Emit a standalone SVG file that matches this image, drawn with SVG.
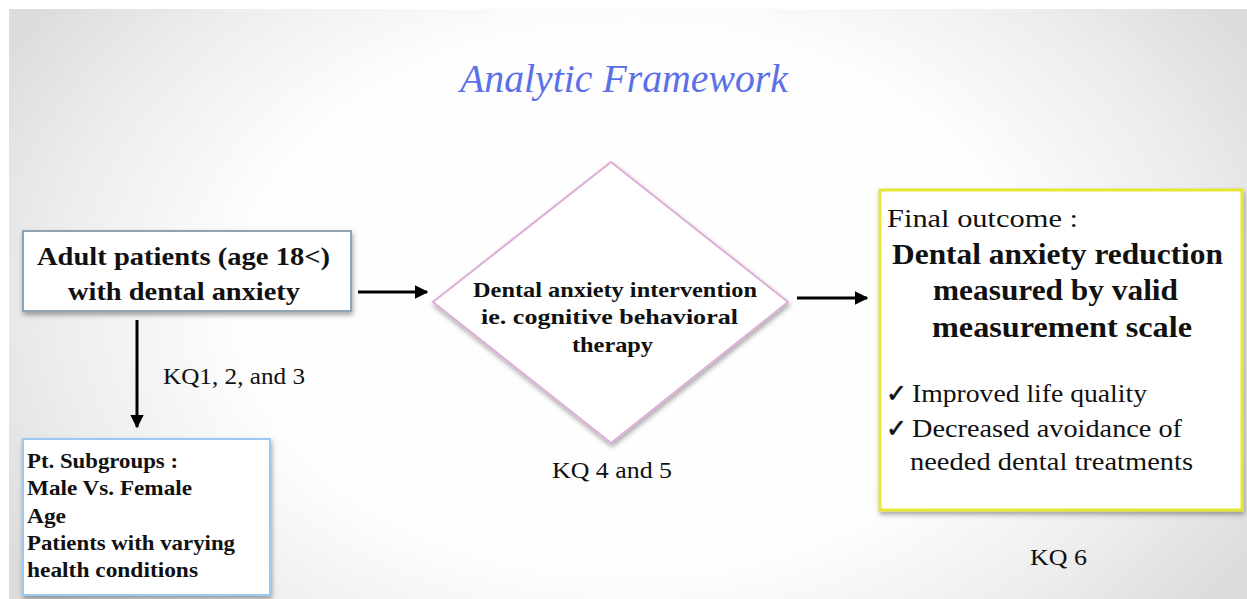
<svg xmlns="http://www.w3.org/2000/svg" width="1247" height="599" viewBox="0 0 1247 599">
<defs>
<radialGradient id="bg" cx="630" cy="300" r="720" gradientUnits="userSpaceOnUse" gradientTransform="translate(630 300) scale(1 0.7) translate(-630 -300)">
<stop offset="0" stop-color="#ffffff"/>
<stop offset="0.55" stop-color="#fdfdfd"/>
<stop offset="0.8" stop-color="#ededed"/>
<stop offset="1" stop-color="#dcdcdc"/>
</radialGradient>
<filter id="sh" x="-10%" y="-10%" width="125%" height="125%">
<feDropShadow dx="1" dy="3" stdDeviation="2.5" flood-color="#000" flood-opacity="0.35"/>
</filter>
<marker id="ah" viewBox="0 0 10 10" refX="9" refY="5" markerWidth="4.5" markerHeight="4.5" orient="auto" markerUnits="strokeWidth">
<path d="M0,0 L10,5 L0,10 z" fill="#000"/>
</marker>
<style>
.t{font-family:"Liberation Serif","Times New Roman",serif;fill:#111}
.b{font-weight:bold}
.ck{font-family:"DejaVu Sans",sans-serif;font-weight:bold;fill:#111;stroke:#111;stroke-width:0.6}
.c{stroke:#000;stroke-width:3;fill:none;marker-end:url(#ah)}
</style>
</defs>
<rect width="1247" height="599" fill="#fff"/>
<rect x="9" y="9" width="1238" height="590" fill="url(#bg)"/>
<text x="624" y="92" text-anchor="middle" font-family="Liberation Serif, serif" font-style="italic" font-size="40" fill="#5b70e8" textLength="328" lengthAdjust="spacingAndGlyphs">Analytic Framework</text>
<g id="connectors">
<line class="c" x1="358" y1="292" x2="427" y2="292"/>
<line class="c" x1="137" y1="320" x2="137" y2="427"/>
<line class="c" x1="797" y1="298" x2="867" y2="298"/>
</g>
<g id="population">
<rect x="23" y="231" width="328" height="80" fill="#fff" stroke="#8fa3b3" stroke-width="2" filter="url(#sh)"/>
<text class="t b" x="37" y="265" font-size="26" textLength="293" lengthAdjust="spacingAndGlyphs">Adult patients (age 18&lt;)</text>
<text class="t b" x="68" y="300" font-size="26" textLength="232" lengthAdjust="spacingAndGlyphs">with dental anxiety</text>
</g>
<text class="t" x="163" y="384" font-size="23" textLength="142" lengthAdjust="spacingAndGlyphs">KQ1, 2, and 3</text>
<g id="subgroups">
<rect x="23" y="439" width="247" height="156" fill="#fff" stroke="#9cc9f2" stroke-width="2" filter="url(#sh)"/>
<text class="t b" x="27" y="468" font-size="21" textLength="151" lengthAdjust="spacingAndGlyphs">Pt. Subgroups :</text>
<text class="t b" x="27" y="495" font-size="21" textLength="165" lengthAdjust="spacingAndGlyphs">Male Vs. Female</text>
<text class="t b" x="27" y="523" font-size="21" textLength="39" lengthAdjust="spacingAndGlyphs">Age</text>
<text class="t b" x="27" y="550" font-size="21" textLength="208" lengthAdjust="spacingAndGlyphs">Patients with varying</text>
<text class="t b" x="27" y="577" font-size="21" textLength="171" lengthAdjust="spacingAndGlyphs">health conditions</text>
</g>
<g id="intervention">
<polygon points="611,162 788,302 611,443 433,302" fill="#fff" stroke="#dcaed6" stroke-width="2" filter="url(#sh)"/>
<text class="t b" x="473" y="297" font-size="21" textLength="284" lengthAdjust="spacingAndGlyphs">Dental anxiety intervention</text>
<text class="t b" x="481" y="324" font-size="21" textLength="257" lengthAdjust="spacingAndGlyphs">ie. cognitive behavioral</text>
<text class="t b" x="572" y="352" font-size="21" textLength="81" lengthAdjust="spacingAndGlyphs">therapy</text>
</g>
<text class="t" x="552" y="478" font-size="23" textLength="120" lengthAdjust="spacingAndGlyphs">KQ 4 and 5</text>
<g id="outcome">
<rect x="880" y="190" width="362" height="320" fill="#fff" stroke="#e6e635" stroke-width="3" filter="url(#sh)"/>
<text class="t" x="887" y="227" font-size="26" textLength="191" lengthAdjust="spacingAndGlyphs">Final outcome :</text>
<text class="t b" x="892" y="264" font-size="29" textLength="331" lengthAdjust="spacingAndGlyphs">Dental anxiety reduction</text>
<text class="t b" x="933" y="300" font-size="29" textLength="245" lengthAdjust="spacingAndGlyphs">measured by valid</text>
<text class="t b" x="932" y="337" font-size="29" textLength="260" lengthAdjust="spacingAndGlyphs">measurement scale</text>
<text class="ck" x="886" y="402" font-size="25">✓</text>
<text class="t" x="912" y="402" font-size="25" textLength="235" lengthAdjust="spacingAndGlyphs">Improved life quality</text>
<text class="ck" x="886" y="437" font-size="25">✓</text>
<text class="t" x="912" y="437" font-size="25" textLength="270" lengthAdjust="spacingAndGlyphs">Decreased avoidance of</text>
<text class="t" x="910" y="470" font-size="25" textLength="283" lengthAdjust="spacingAndGlyphs">needed dental treatments</text>
</g>
<text class="t" x="1030" y="565" font-size="23" textLength="57" lengthAdjust="spacingAndGlyphs">KQ 6</text>
</svg>
